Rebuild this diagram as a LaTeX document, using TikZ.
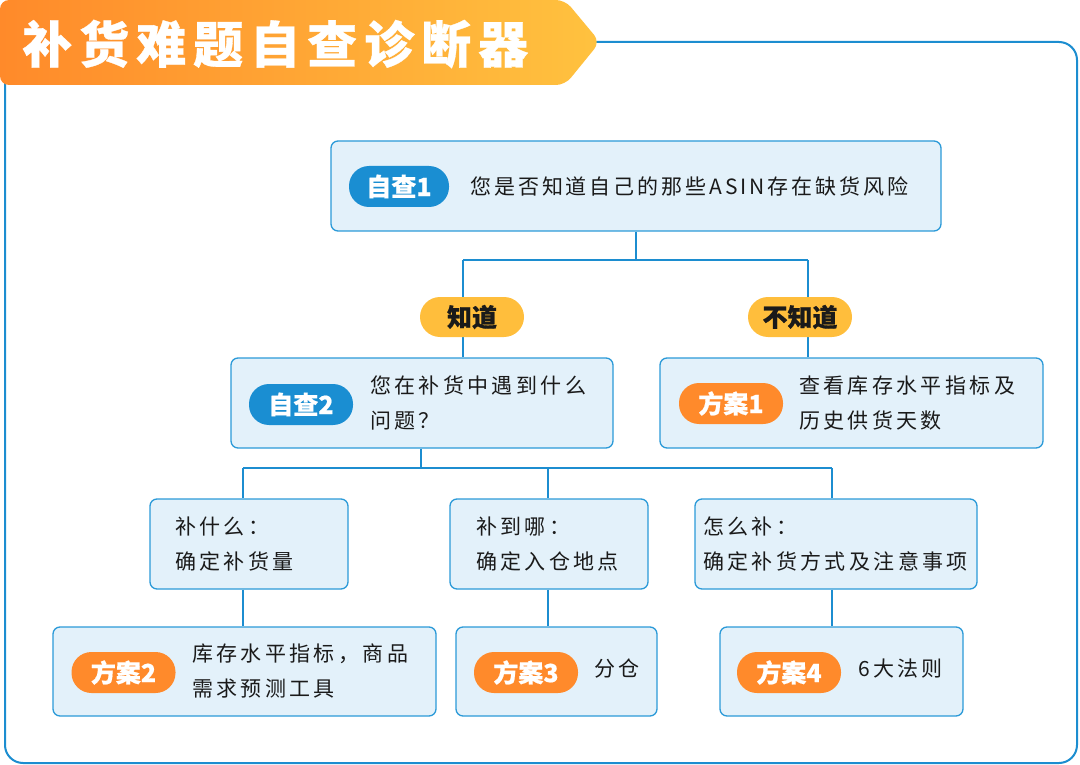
\documentclass[tikz,border=0pt]{standalone}
\usepackage{fontspec}
\setmainfont{Noto Sans CJK SC}
\newfontfamily\heavy{Noto Sans CJK SC}[BoldFeatures={FakeBold=0.6}]
\definecolor{boxfill}{HTML}{E3F1FA}
\definecolor{boxline}{HTML}{2B9AD8}
\definecolor{connc}{HTML}{1C8DD0}
\definecolor{bluepill}{HTML}{1A8ED2}
\definecolor{orangepill}{HTML}{FF8A2B}
\definecolor{yellowpill}{HTML}{FFBE3C}
\definecolor{txtc}{HTML}{1A1A1A}
\definecolor{bannerL}{HTML}{FF8A2A}
\definecolor{bannerR}{HTML}{FFC23F}
\tikzset{
 box/.style={draw=boxline, fill=boxfill, line width=1.3pt, rounded corners=7pt, inner sep=0pt},
 conn/.style={draw=connc, line width=2.6pt},
 pill/.style={rounded corners=20pt, minimum height=41pt, minimum width=104pt, inner sep=0pt, font=\heavy\bfseries\fontsize{25}{25}\selectfont, text=white},
 bpill/.style={pill, fill=bluepill},
 opill/.style={pill, fill=orangepill},
 ypill/.style={pill, fill=yellowpill, text=txtc, minimum width=104pt, minimum height=40pt},
 txt/.style={anchor=west, align=left, inner sep=0pt, text=txtc, font=\fontsize{21}{35}\selectfont\addfontfeature{LetterSpace=16}},
 txtb/.style={anchor=west, align=left, inner sep=0pt, text=txtc, font=\fontsize{21}{35}\selectfont\addfontfeature{LetterSpace=14}},
}
\begin{document}
\begin{tikzpicture}[x=1pt,y=-1pt]
\useasboundingbox (0,0) rectangle (1080,765);
% frame
\draw[connc, line width=2pt, rounded corners=18pt] (5,42) rectangle (1077,763);
% banner
\shade[left color=bannerL, right color=bannerR, rounded corners=9pt]
  (0,0) -- (565,0) -- (600,42) -- (565,85) -- (0,85) -- cycle;
\node[anchor=west, inner sep=0pt, text=white, font=\heavy\bfseries\fontsize{50}{50}\selectfont\addfontfeature{LetterSpace=14}] (title) at (22,44) {补货难题自查诊断器};

% boxes
\node[box, minimum width=610pt, minimum height=90pt] (b1) at (636,186) {};
\node[box, minimum width=382pt, minimum height=90pt] (b2) at (422,403) {};
\node[box, minimum width=383pt, minimum height=90pt] (p1) at (851.5,403) {};
\node[box, minimum width=198pt, minimum height=90pt] (qa) at (249,544) {};
\node[box, minimum width=198pt, minimum height=90pt] (qb) at (549,544) {};
\node[box, minimum width=282pt, minimum height=90pt] (qc) at (836,544) {};
\node[box, minimum width=383pt, minimum height=89pt] (p2) at (244.5,671.5) {};
\node[box, minimum width=201pt, minimum height=89pt] (p3) at (556.5,671.5) {};
\node[box, minimum width=243pt, minimum height=89pt] (p4) at (841.5,671.5) {};

% connector junctions
\coordinate (j1) at (636,260);
\coordinate (jl) at (463,260);
\coordinate (jr) at (808,260);
\coordinate (j2) at (421,468);
\coordinate (ja) at (243,468);
\coordinate (jb) at (548,468);
\coordinate (jc) at (832,468);

\draw[conn] (b1.south) -- (j1);
\draw[conn] (jl) -- (jr);
\draw[conn] (jl) -- (jl |- b2.north);
\draw[conn] (jr) -- (jr |- p1.north);
\draw[conn] (b2.south -| j2) -- (j2);
\draw[conn] (ja) -- (jc);
\draw[conn] (ja) -- (ja |- qa.north);
\draw[conn] (jb) -- (jb |- qb.north);
\draw[conn] (jc) -- (jc |- qc.north);
\draw[conn] (ja |- qa.south) -- (ja |- p2.north);
\draw[conn] (jb |- qb.south) -- (jb |- p3.north);
\draw[conn] (jc |- qc.south) -- (jc |- p4.north);

% yellow pills
\node[ypill] (k1) at (472,317) {知道};
\node[ypill] (k2) at (800,317) {不知道};

% box contents
\node[bpill, minimum width=100pt] (s1) at (399,186.5) {自查1};
\node[txtb] (t1) at (470,186) {您是否知道自己的那些ASIN存在缺货风险};

\node[bpill] (s2) at (301,404.5) {自查2};
\node[txt] (t2) at (370,403) {您在补货中遇到什么\\问题？};

\node[opill] (s3) at (731,403.5) {方案1};
\node[txt] (t3) at (799,403) {查看库存水平指标及\\历史供货天数};

\node[txt] (ta) at (175,544) {补什么：\\确定补货量};
\node[txt] (tb) at (476,544) {补到哪：\\确定入仓地点};
\node[txt] (tc) at (703,544) {怎么补：\\确定补货方式及注意事项};

\node[opill] (s4) at (123.5,672.5) {方案2};
\node[txt] (t4) at (192,671) {库存水平指标，商品\\需求预测工具};

\node[opill] (s5) at (526,672.5) {方案3};
\node[txt] (t5) at (594,669) {分仓};

\node[opill] (s6) at (789,672.5) {方案4};
\node[txt] (t6) at (858,669) {6大法则};
\end{tikzpicture}
\end{document}
